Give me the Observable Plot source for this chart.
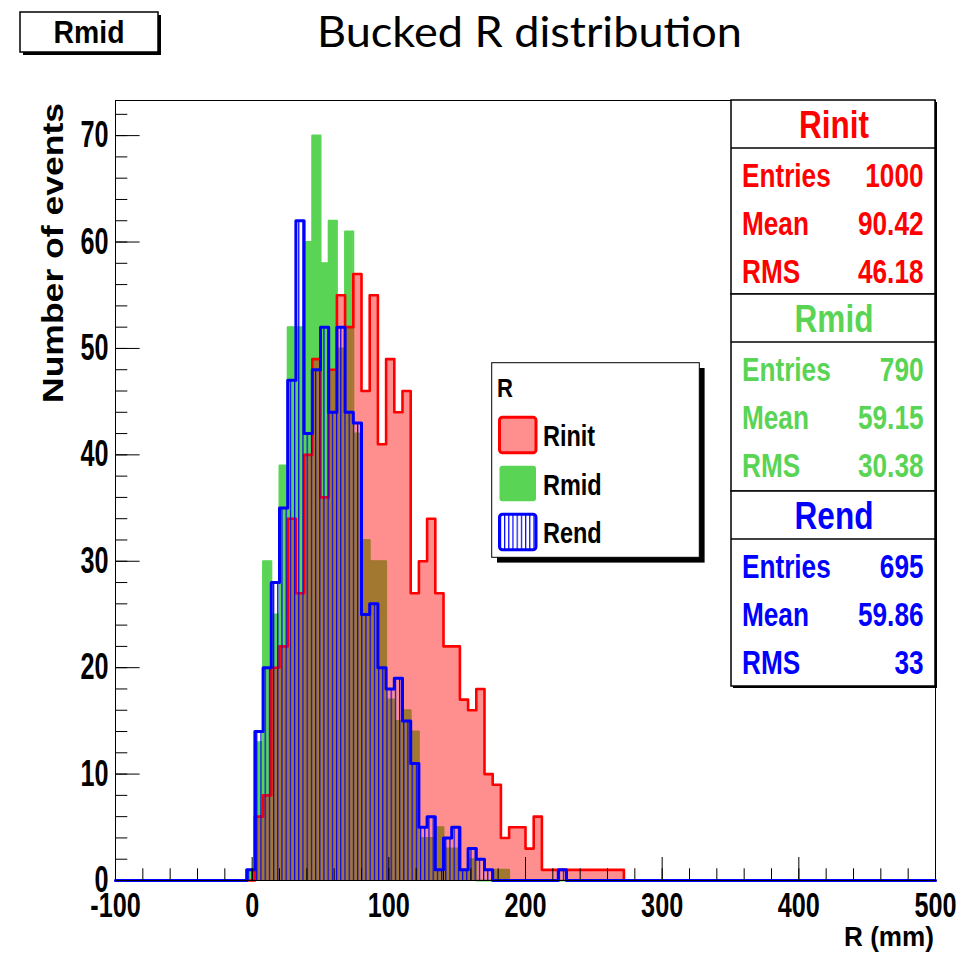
<!DOCTYPE html>
<html>
<head>
<meta charset="utf-8">
<script src="https://cdn.jsdelivr.net/npm/d3@7"></script>
<script src="https://cdn.jsdelivr.net/npm/@observablehq/plot@0.6"></script>
<style>
  html, body { margin: 0; padding: 0; background: #fff; }
  #chart { width: 972px; height: 959px; }
</style>
</head>
<body>
<div id="chart"></div>
<script>
// Binning: 100 bins of 6 mm over -100..500 mm
const xMin = -100, xMax = 500, binWidth = 6;
// Lower edge of the first listed bin (all other bins are empty)
const firstEdge = -4;

const rinitCounts = [0, 6, 8, 20, 22, 34, 27, 40, 49, 36, 48, 55, 52, 57, 46, 55, 41, 49, 44, 46,
  27, 30, 34, 27, 22, 22, 17, 16, 18, 10, 9, 4, 5, 5, 3, 6, 1, 1, 1, 1, 1, 1, 1, 1, 1, 1];
const rmidCounts = [1, 13, 30, 25, 39, 52, 52, 60, 70, 58, 62, 50, 61, 42, 32, 30, 30, 17, 15, 16,
  14, 4, 4, 5, 3, 3, 1, 2, 0, 0, 1, 1, 0, 0, 0, 0, 0, 0, 0, 0, 0, 0, 0, 0, 0, 0];
const rendCounts = [1, 14, 20, 28, 35, 47, 62, 42, 48, 52, 44, 52, 44, 43, 25, 26, 20, 18, 19, 15,
  11, 5, 6, 1, 4, 5, 1, 3, 2, 1, 0, 0, 0, 0, 0, 0, 0, 0, 1, 0, 0, 0, 0, 0, 0, 0];

const xTicks = [-100, 0, 100, 200, 300, 400, 500];
const yTicks = [0, 10, 20, 30, 40, 50, 60, 70];
const xMinorTicks = d3.range(-100, 501, 20);
const yMinorTicks = d3.range(0, 73, 2);

const seriesNames = ["Rinit", "Rmid", "Rend"];
const seriesColors = ["#ff0000", "#59d454", "#0000ff"];
const statEntries = ["1000", "790", "695"];
const statMeans = ["90.42", "59.15", "59.86"];
const statRms = ["46.18", "30.38", "33"];

const titleText = "Bucked R distribution";
const labelText = "Rmid";
const legendTitle = "R";
const xLabel = "R (mm)";
const yLabel = "Number of events";

// Turn bin counts into step points (lower edge of every bin + closing edge)
const nBins = Math.round((xMax - xMin) / binWidth);
const offset = Math.round((firstEdge - xMin) / binWidth);
function steps(counts) {
  const pts = [];
  for (let k = 0; k < nBins; k++) pts.push({x: xMin + k * binWidth, y: counts[k - offset] ?? 0});
  pts.push({x: xMax, y: 0});
  return pts;
}
const rinit = steps(rinitCounts), rmid = steps(rmidCounts), rend = steps(rendCounts);

const W = 972, H = 959;
const rootFont = "'Liberation Sans', Arial, Helvetica, sans-serif";
const rinitOpacity = 0.44;

// Blue vertical hatch used for Rend
function patterns() {
  const defs = d3.create("svg:defs");
  const pb = defs.append("pattern").attr("id", "rendFill")
    .attr("patternUnits", "userSpaceOnUse").attr("width", 4.2).attr("height", 8);
  pb.append("rect").attr("x", 0).attr("y", 0).attr("width", 1.2).attr("height", 8).attr("fill", seriesColors[2]);
  return defs.node();
}

const stepOpts = {x: "x", y: "y", curve: "step-after"};

const plot = Plot.plot({
  width: W, height: H,
  marginLeft: 115, marginRight: 37, marginTop: 100, marginBottom: 79,
  x: {domain: [xMin, xMax], label: null},
  y: {domain: [0, 73.3], label: null},
  style: {fontFamily: rootFont, background: "white", overflow: "visible"},
  marks: [
    patterns,
    Plot.areaY(rmid, {...stepOpts, fill: seriesColors[1]}),
    Plot.line(rmid, {...stepOpts, stroke: seriesColors[1], strokeWidth: 2}),
    Plot.areaY(rinit, {...stepOpts, fill: seriesColors[0], fillOpacity: rinitOpacity}),
    Plot.line(rinit, {...stepOpts, stroke: seriesColors[0], strokeWidth: 2.6}),
    Plot.areaY(rend, {...stepOpts, fill: "url(#rendFill)"}),
    Plot.line(rend, {...stepOpts, stroke: seriesColors[2], strokeWidth: 3}),
    Plot.frame({stroke: "black", strokeWidth: 1}),
    Plot.axisX({ticks: xMinorTicks, tickSize: -11.7, tickFormat: () => "", label: null}),
    Plot.axisX({ticks: xTicks, tickSize: -23, tickFormat: () => "", label: null}),
    Plot.axisX({ticks: xTicks, tickSize: 0, tickPadding: 12, label: null, tickFormat: d => String(d),
      fontSize: 35, fontWeight: "bold", fill: "black"}),
    Plot.axisY({ticks: yMinorTicks, tickSize: -12.3, tickFormat: () => "", label: null}),
    Plot.axisY({ticks: yTicks, tickSize: -24.6, tickFormat: () => "", label: null}),
    Plot.axisY({ticks: yTicks, tickSize: 0, tickPadding: 7, label: null, tickFormat: d => String(d),
      fontSize: 36, fontWeight: "bold", fill: "black"})
  ]
});

document.getElementById("chart").append(plot);
const svg = d3.select(plot);

// Narrow the bold sans glyphs of the tick labels to the condensed canvas look
function squeeze(node, factor) {
  const w = node.getComputedTextLength();
  if (w > 0) {
    node.setAttribute("textLength", (w * factor).toFixed(1));
    node.setAttribute("lengthAdjust", "spacingAndGlyphs");
  }
}
svg.selectAll('g[aria-label="x-axis tick label"] text').each(function() { squeeze(this, 0.72); });
svg.selectAll('g[aria-label="y-axis tick label"] text').each(function() { squeeze(this, 0.70); });

const deco = svg.append("g").attr("font-family", rootFont);

// Text placed at (x, y) and scaled horizontally about its anchor
function addText(g, str, {x, y, anchor = "start", size, weight = "bold", fill = "black", family, sx = 1, width}) {
  const t = g.append("text").text(str)
    .attr("text-anchor", anchor).attr("font-size", size).attr("font-weight", weight).attr("fill", fill);
  if (family) t.attr("font-family", family);
  if (width) sx = width / t.node().getComputedTextLength();
  t.attr("transform", `translate(${x},${y}) scale(${sx},1)`);
  return t;
}

// Page title
addText(svg, titleText, {x: 529.5, y: 47, anchor: "middle", size: 43, weight: "normal",
  family: "Lato, 'Open Sans', sans-serif", width: 425});

// Label box at top left
deco.append("rect").attr("x", 23).attr("y", 15).attr("width", 138).attr("height", 40).attr("fill", "black");
deco.append("rect").attr("x", 20).attr("y", 12).attr("width", 138).attr("height", 40)
  .attr("fill", "white").attr("stroke", "black").attr("stroke-width", 1.5);
addText(deco, labelText, {x: 89, y: 43, anchor: "middle", size: 32, width: 71});

// Axis titles
addText(deco, xLabel, {x: 934, y: 946, anchor: "end", size: 28, width: 90});
deco.append("text").text(yLabel)
  .attr("transform", "translate(63,253) rotate(-90)").attr("text-anchor", "middle")
  .attr("font-weight", "bold").attr("font-size", 30)
  .attr("textLength", 300).attr("lengthAdjust", "spacingAndGlyphs");

// Legend
const lg = deco.append("g");
lg.append("rect").attr("x", 497).attr("y", 368).attr("width", 207.6).attr("height", 194.6).attr("fill", "black");
lg.append("rect").attr("x", 491.7).attr("y", 362.7).attr("width", 207.6).attr("height", 194.6)
  .attr("fill", "white").attr("stroke", "black").attr("stroke-width", 1);
addText(lg, legendTitle, {x: 497, y: 397, size: 26, sx: 0.85});
seriesNames.forEach((name, i) => {
  const y0 = 416 + i * 48.5;
  const sw = lg.append("rect").attr("x", 499.5).attr("y", y0 + 1.2).attr("width", 36.5).attr("height", 35.5)
    .attr("rx", 3);
  if (i === 0) sw.attr("fill", seriesColors[0]).attr("fill-opacity", rinitOpacity);
  else if (i === 1) sw.attr("fill", seriesColors[1]);
  else sw.attr("fill", "url(#rendFill)");
  if (i !== 1) sw.attr("stroke", seriesColors[i]).attr("stroke-width", 3);
  addText(lg, name, {x: 543, y: y0 + 30, size: 29, sx: 0.81});
});

// Statistics boxes
const st = deco.append("g");
const boxX0 = 731, boxX1 = 935;
const boxTops = [100, 294, 491], boxHeights = [194, 197, 195];
seriesNames.forEach((name, i) => {
  const top = boxTops[i], h = boxHeights[i];
  const col = seriesColors[i];
  st.append("rect").attr("x", boxX0 + 2).attr("y", top + 2).attr("width", boxX1 - boxX0).attr("height", h).attr("fill", "black");
  st.append("rect").attr("x", boxX0).attr("y", top).attr("width", boxX1 - boxX0).attr("height", h)
    .attr("fill", "white").attr("stroke", "black").attr("stroke-width", 1.5);
  st.append("line").attr("x1", boxX0).attr("x2", boxX1).attr("y1", top + 48).attr("y2", top + 48)
    .attr("stroke", "black").attr("stroke-width", 1.5);
  addText(st, name, {x: (boxX0 + boxX1) / 2 + 1, y: top + 38, anchor: "middle", size: 38, fill: col, sx: 0.83});
  const rows = [["Entries", statEntries[i]], ["Mean", statMeans[i]], ["RMS", statRms[i]]];
  rows.forEach(([lab, val], j) => {
    const yb = top + 86.5 + j * 48.2;
    addText(st, lab, {x: 742, y: yb, size: 34, fill: col, sx: 0.77});
    addText(st, val, {x: 923.5, y: yb, anchor: "end", size: 34, fill: col, sx: 0.77});
  });
});
</script>
</body>
</html>
